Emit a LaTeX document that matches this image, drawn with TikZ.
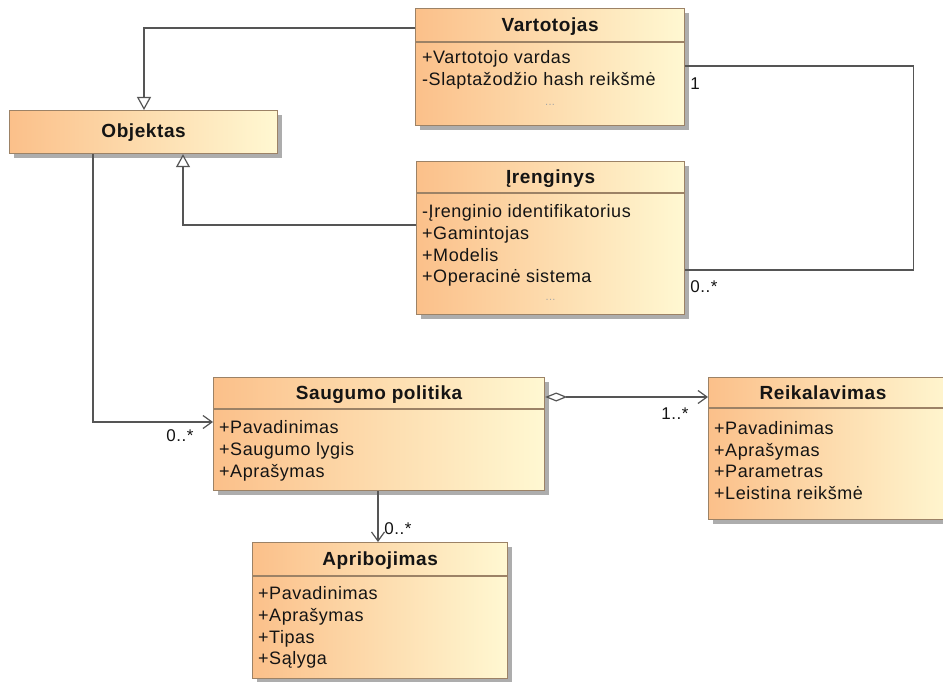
\documentclass[tikz,border=0pt]{standalone}
\usepackage{fontspec}
\setmainfont{Liberation Sans}[LetterSpace=3]
\usetikzlibrary{arrows.meta,calc,shadows}

\definecolor{clsLeft}{HTML}{FBC08A}
\definecolor{clsRight}{HTML}{FFF8D2}
\definecolor{clsBorder}{HTML}{9C8266}
\definecolor{clsShadow}{HTML}{ADADAD}
\definecolor{wireGray}{HTML}{555555}

\tikzset{
  classbox/.style={anchor=north west, inner sep=0pt, draw=clsBorder, line width=1.2pt,
    left color=clsLeft, right color=clsRight,
    drop shadow={shadow xshift=4pt, shadow yshift=-4pt, fill=clsShadow, opacity=1}},
  sepline/.style={draw=clsBorder, line width=1.1pt},
  hdr/.style={anchor=base, inner sep=0pt, font=\fontsize{19}{23}\selectfont\bfseries, text=black!92},
  attr/.style={anchor=base west, inner sep=0pt, font=\fontsize{18}{21}\selectfont, text=black!92},
  more/.style={anchor=center, inner sep=0pt, font=\fontsize{11}{12}\selectfont, text=black!35},
  mult/.style={anchor=center, inner sep=0pt, font=\fontsize{17}{20}\selectfont, text=black!92},
  wire/.style={draw=wireGray, line width=1.3pt},
  genTip/.tip={Triangle[length=13pt, width=14pt, fill=white, line width=1.2pt]},
  navTip/.tip={Straight Barb[length=9pt, width=13pt, line width=1.2pt]},
  aggTip/.tip={Diamond[length=22pt, width=9pt, fill=white, line width=1.2pt]},
}

\begin{document}
\begin{tikzpicture}[x=1pt, y=-1pt]
\useasboundingbox (0,0) rectangle (943,682);
\fill[white] (0,0) rectangle (943,682);
\clip (0,0) rectangle (943,682);

% ---------- Vartotojas ----------
\node[classbox, minimum width=269pt, minimum height=117pt] (vart) at (415,8) {};
\draw[sepline] ($(vart.north west)+(0,34)$) -- ($(vart.north east)+(0,34)$);
\node[hdr] (vartH) at ($(vart.north)+(0,23.5)$) {Vartotojas};
\node[attr] (vartA1) at ($(vart.north west)+(7,56)$) {+Vartotojo vardas};
\node[attr] (vartA2) at ($(vart.north west)+(7,78)$) {-Slaptažodžio hash reikšmė};
\node[more] (vartM) at ($(vart.north)+(0,97)$) {...};

% ---------- Objektas ----------
\node[classbox, minimum width=268pt, minimum height=43pt] (obj) at (9,110) {};
\node[hdr] (objH) at ($(obj.north)+(0,28)$) {Objektas};

% ---------- Įrenginys ----------
\node[classbox, minimum width=268pt, minimum height=153pt] (iren) at (416,161) {};
\draw[sepline] ($(iren.north west)+(0,32)$) -- ($(iren.north east)+(0,32)$);
\node[hdr] (irenH) at ($(iren.north)+(0,22.5)$) {Įrenginys};
\node[attr] (irenA1) at ($(iren.north west)+(6,57)$) {-Įrenginio identifikatorius};
\node[attr] (irenA2) at ($(iren.north west)+(6,78.5)$) {+Gamintojas};
\node[attr] (irenA3) at ($(iren.north west)+(6,100)$) {+Modelis};
\node[attr] (irenA4) at ($(iren.north west)+(6,121.5)$) {+Operacinė sistema};
\node[more] (irenM) at ($(iren.north)+(0,139)$) {...};

% ---------- Saugumo politika ----------
\node[classbox, minimum width=331pt, minimum height=113pt] (saug) at (213,377) {};
\draw[sepline] ($(saug.north west)+(0,32)$) -- ($(saug.north east)+(0,32)$);
\node[hdr] (saugH) at ($(saug.north)+(0,22.5)$) {Saugumo politika};
\node[attr] (saugA1) at ($(saug.north west)+(6,56)$) {+Pavadinimas};
\node[attr] (saugA2) at ($(saug.north west)+(6,78)$) {+Saugumo lygis};
\node[attr] (saugA3) at ($(saug.north west)+(6,100)$) {+Aprašymas};

% ---------- Reikalavimas ----------
\node[classbox, minimum width=250pt, minimum height=142pt] (reik) at (708,377) {};
\draw[sepline] ($(reik.north west)+(0,31)$) -- ($(reik.north east)+(0,31)$);
\node[hdr] (reikH) at ($(reik.north west)+(115,22.5)$) {Reikalavimas};
\node[attr] (reikA1) at ($(reik.north west)+(6,57)$) {+Pavadinimas};
\node[attr] (reikA2) at ($(reik.north west)+(6,79)$) {+Aprašymas};
\node[attr] (reikA3) at ($(reik.north west)+(6,100)$) {+Parametras};
\node[attr] (reikA4) at ($(reik.north west)+(6,122)$) {+Leistina reikšmė};

% ---------- Apribojimas ----------
\node[classbox, minimum width=255pt, minimum height=136pt] (aprib) at (252,542) {};
\draw[sepline] ($(aprib.north west)+(0,34)$) -- ($(aprib.north east)+(0,34)$);
\node[hdr] (apribH) at ($(aprib.north)+(0,23.5)$) {Apribojimas};
\node[attr] (apribA1) at ($(aprib.north west)+(6,57)$) {+Pavadinimas};
\node[attr] (apribA2) at ($(aprib.north west)+(6,79)$) {+Aprašymas};
\node[attr] (apribA3) at ($(aprib.north west)+(6,101)$) {+Tipas};
\node[attr] (apribA4) at ($(aprib.north west)+(6,122)$) {+Sąlyga};

% ---------- Generalizations ----------
\draw[wire, -genTip] ($(vart.north west)+(0,20)$) -| ($(obj.north west)+(135,0)$);
\draw[wire, -genTip] ($(iren.north west)+(0,64)$) -| ($(obj.south west)+(174,0)$);

% ---------- Associations ----------
\draw[wire, -navTip] ($(obj.south west)+(84,0)$) |- ($(saug.north west)+(0,45)$);
\draw[wire] ($(vart.north east)+(0,58)$) -- ++(228,0) |- ($(iren.north east)+(0,109)$);
\draw[wire, aggTip-navTip] ($(saug.north east)+(0,20)$) -- ($(reik.north west)+(0,20)$);
\draw[wire, -navTip] ($(saug.south west)+(165,0)$) -- ($(aprib.north west)+(126,0)$);

% ---------- Multiplicities ----------
\node[mult] (m1) at (180,436) {0..*};
\node[mult] (m2) at (695,84) {1};
\node[mult] (m3) at (704,287) {0..*};
\node[mult] (m4) at (675,414) {1..*};
\node[mult] (m5) at (398,529) {0..*};
\end{tikzpicture}
\end{document}
